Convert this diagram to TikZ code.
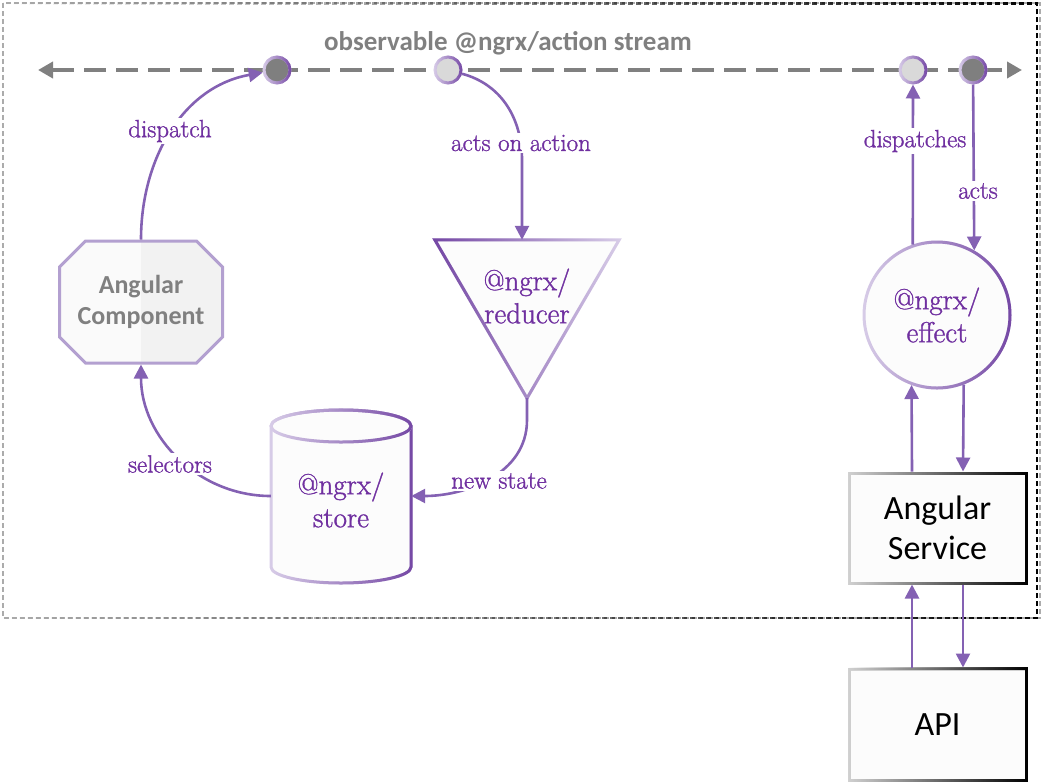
\documentclass[tikz,border=0pt]{standalone}
\usepackage{fontspec}
\newfontfamily\carlito{Carlito}
\newfontfamily\serifheavy{Latin Modern Roman}[FakeBold=1.2]
\usetikzlibrary{arrows.meta,shapes.misc,fadings,calc}
\definecolor{pline}{HTML}{8461B3}
\definecolor{ptext}{HTML}{7030A0}
\definecolor{plight}{HTML}{D8CDE8}
\definecolor{pmid}{HTML}{B3A0D0}
\definecolor{pdark}{HTML}{7548A5}
\definecolor{dotdark}{HTML}{7F7F7F}
\definecolor{dotlight}{HTML}{D9D9D9}
\definecolor{streamgray}{HTML}{808080}
\tikzset{
  pgrad/.style={draw=plight, line width=3pt, postaction={draw=pdark, line width=3pt, path fading=#1}},
  ggrad/.style={draw=gray!35, line width=3pt, postaction={draw=black, line width=3pt, path fading=west}},
  conn/.style={pline, line width=2.6pt, -{Triangle[length=14pt,width=14pt]}},
  lbl/.style={fill=white, text=ptext, font=\serifheavy\fontsize{25}{28}\selectfont, inner sep=2pt},
  ntext/.style={text=ptext, font=\serifheavy\fontsize{29}{33}\selectfont, align=center},
  dot/.style={circle, minimum size=26pt, inner sep=0pt, pgrad=west},
  boxnode/.style={minimum width=177pt, inner sep=0pt, fill=gray!2, ggrad, align=center, font=\carlito\fontsize{34}{40}\selectfont}
}
\begin{document}
\begin{tikzpicture}[x=1pt,y=-1pt]
\useasboundingbox (0,0) rectangle (1048,782);
% outer dashed frame
\draw[gray!65, line width=2.5pt, dash pattern=on 5pt off 3pt,
      postaction={draw=black, line width=2.5pt, dash pattern=on 5pt off 3pt, path fading=west}]
  (3,3) rectangle (1040,618);
% action stream
\coordinate (sl) at (38,70);
\coordinate (sr) at (1022,70);
\draw[streamgray, line width=4pt, dash pattern=on 22pt off 10pt,
      {Triangle[length=15pt,width=16pt]}-{Triangle[length=15pt,width=16pt]}] (sl) -- (sr);
\node[dot, fill=dotdark]  (s1) at (277,70) {};
\node[dot, fill=dotlight] (s2) at (448,70) {};
\node[dot, fill=dotlight] (s3) at (913,70) {};
\node[dot, fill=dotdark]  (s4) at (973,70) {};
\node[text=streamgray, font=\carlito\bfseries\fontsize{27}{30}\selectfont] (title) at (508,43) {observable @ngrx/action stream};
% angular component
\node[chamfered rectangle, chamfered rectangle xsep=13pt, chamfered rectangle ysep=13pt,
      minimum width=163pt, minimum height=122pt, inner sep=0pt, fill=gray!4, draw=pmid, line width=3pt,
      path picture={\fill[gray!10] (path picture bounding box.north) rectangle (path picture bounding box.south east);},
      align=center, text=gray, font=\carlito\bfseries\fontsize{26}{31}\selectfont] (comp) at (141,302) {Angular\\Component};
% reducer (triangle)
\node[minimum width=184pt, minimum height=158pt, inner sep=0pt] (red) at (527,319) {};
\path[fill=gray!2, pgrad=east] (red.north west) -- (red.north east) -- (red.south) -- cycle;
\node[ntext] (redtext) at (527,296) {@ngrx/\\reducer};
% store (cylinder)
\node[minimum width=140pt, minimum height=173pt, inner sep=0pt] (store) at (341,496) {};
\path[fill=gray!2, pgrad=west] (271,426) -- (271,567) arc[start angle=180, end angle=360, x radius=70pt, y radius=16pt]
   -- (411,426) arc[start angle=0, end angle=180, x radius=70pt, y radius=16pt] -- cycle;
\path[pgrad=west] (341,426) ellipse[x radius=70pt, y radius=16pt];
\node[ntext] (storetext) at (341,500) {@ngrx/\\store};
% effect
\node[circle, minimum size=146pt, inner sep=0pt, fill=gray!2, pgrad=west, ntext] (eff) at (937,315) {@ngrx/\\effect};
% service and api
\node[boxnode, minimum height=110pt] (svc) at (937.5,528) {Angular\\Service};
\node[boxnode, minimum height=111pt] (api) at (937.5,724.5) {API};
% connectors
\draw[conn] (comp.north) to[out=90, in=190] (s1);
\node[lbl] (ldispatch) at (170,131) {dispatch};
\draw[conn] (s2) to[out=-15, in=90] (522,160) -- ([xshift=-5pt]red.north);
\node[lbl] (lacts) at (521,143) {acts on action};
\draw[conn] (red.south) -- (527,420) to[out=-90, in=0] (store.east);
\node[lbl] (lnew) at (499,481) {new state};
\draw[conn] (store.west) to[out=180, in=-90] (comp.south);
\node[lbl] (lsel) at (170,464) {selectors};
\draw[conn] (eff.109) -- (s3);
\node[lbl] (ldispatches) at (915,141) {dispatches};
\draw[conn] (s4) -- (eff.60);
\node[lbl] (lacts2) at (978,191) {acts};
\draw[conn] ([xshift=-25.5pt]svc.north) -- (eff.250);
\draw[conn] (eff.291) -- ([xshift=25.5pt]svc.north);
\draw[conn] ([xshift=-25.5pt]api.north) -- ([xshift=-25.5pt]svc.south);
\draw[conn] ([xshift=25.5pt]svc.south) -- ([xshift=25.5pt]api.north);
\end{tikzpicture}
\end{document}
